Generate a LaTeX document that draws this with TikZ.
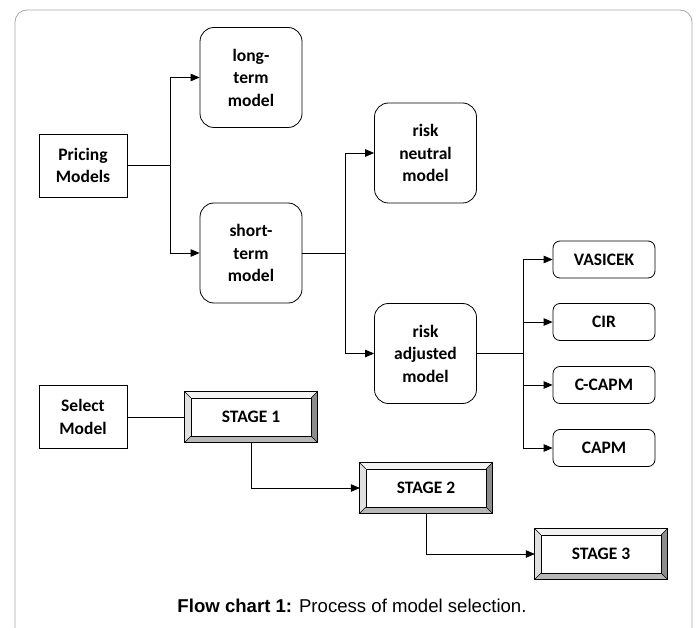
\documentclass[tikz,border=0pt]{standalone}
\usepackage{fontspec}
\setmainfont{Carlito}
\newfontfamily\capfont{Liberation Sans}
\usetikzlibrary{arrows.meta,calc}
\pgfdeclarelayer{bg}
\pgfsetlayers{bg,main}
\definecolor{bevtop}{HTML}{F2F2F2}
\definecolor{bevleft}{HTML}{E0E0E0}
\definecolor{bevright}{HTML}{8C8C8C}
\definecolor{bevbot}{HTML}{B8B8B8}
\newcommand\bevelbox[1]{%
  \begin{pgfonlayer}{bg}
  \fill[bevtop] (#1.north west) -- (#1.north east) -- ([shift={(-6pt,-6pt)}]#1.north east) -- ([shift={(6pt,-6pt)}]#1.north west) -- cycle;
  \fill[bevleft] (#1.north west) -- (#1.south west) -- ([shift={(6pt,6pt)}]#1.south west) -- ([shift={(6pt,-6pt)}]#1.north west) -- cycle;
  \fill[bevright] (#1.north east) -- (#1.south east) -- ([shift={(-6pt,6pt)}]#1.south east) -- ([shift={(-6pt,-6pt)}]#1.north east) -- cycle;
  \fill[bevbot] (#1.south west) -- (#1.south east) -- ([shift={(-6pt,6pt)}]#1.south east) -- ([shift={(6pt,6pt)}]#1.south west) -- cycle;
  \draw[line width=0.8pt] (#1.north west) rectangle (#1.south east);
  \draw[line width=0.6pt,fill=white] ([shift={(6pt,-6pt)}]#1.north west) rectangle ([shift={(-6pt,6pt)}]#1.south east);
  \draw[line width=0.5pt] (#1.north west) -- ([shift={(6pt,-6pt)}]#1.north west)
        (#1.north east) -- ([shift={(-6pt,-6pt)}]#1.north east)
        (#1.south west) -- ([shift={(6pt,6pt)}]#1.south west)
        (#1.south east) -- ([shift={(-6pt,6pt)}]#1.south east);
  \end{pgfonlayer}}
\begin{document}
\begin{tikzpicture}[x=1pt,y=-1pt,
  lbl/.style={font=\fontsize{17.5}{22.5}\selectfont\bfseries, align=center, inner sep=0pt},
  sqbox/.style={lbl, draw, line width=0.8pt, minimum width=88pt, minimum height=63pt},
  bigr/.style={lbl, draw, line width=0.8pt, rounded corners=14pt, minimum width=102pt, minimum height=100pt},
  smallr/.style={lbl, draw, line width=0.8pt, rounded corners=7pt, minimum width=102pt, minimum height=37pt},
  stagebox/.style={lbl, minimum width=132pt, minimum height=50pt},
  conn/.style={line width=0.8pt},
  arr/.style={conn, -{Triangle[length=9pt,width=7.5pt]}},
]
\useasboundingbox (0,0) rectangle (696,628);
\draw[gray!70, line width=0.8pt, rounded corners=12pt] (15,628) -- (15,10) -- (692,10) -- (692,628);

\node[sqbox] (pm) at (83,165.5) {Pricing\\Models};
\node[bigr] (lt) at (251,77.5) {long-\\term\\model};
\node[bigr] (st) at (251,253) {short-\\term\\model};
\node[bigr] (rn) at (425.5,153) {risk\\neutral\\model};
\node[bigr] (ra) at (425.5,353.5) {risk\\adjusted\\model};
\node[smallr] (vas) at (604,259.5) {VASICEK};
\node[smallr] (cir) at (604,322) {CIR};
\node[smallr] (cc) at (604,385) {C-CAPM};
\node[smallr] (capm) at (604,448) {CAPM};
\node[sqbox] (sm) at (83,417) {Select\\Model};
\node[stagebox] (s1) at (251,417) {STAGE 1};
\node[stagebox] (s2) at (426,488) {STAGE 2};
\node[stagebox] (s3) at (601,554) {STAGE 3};
\bevelbox{s1}
\bevelbox{s2}
\bevelbox{s3}

\coordinate (j1) at (170,165.5);
\draw[conn] (pm) -- (j1);
\draw[arr] (j1) |- (lt);
\draw[arr] (j1) |- (st);
\coordinate (j2) at (345,253);
\draw[conn] (st) -- (j2);
\draw[arr] (j2) |- (rn);
\draw[arr] (j2) |- (ra);
\coordinate (j3) at (523,353.5);
\draw[conn] (ra) -- (j3);
\draw[arr] (j3) |- (vas);
\draw[arr] (j3) |- (cir);
\draw[arr] (j3) |- (cc);
\draw[arr] (j3) |- (capm);
\draw[conn] (sm) -- (s1);
\draw[arr] (s1.south) |- (s2);
\draw[arr] (s2.south) |- (s3);

\node[font=\capfont\fontsize{18.6}{22}\selectfont, inner sep=0pt] (cap) at (352,606) {\textbf{Flow chart 1:} Process of model selection.};
\end{tikzpicture}
\end{document}
